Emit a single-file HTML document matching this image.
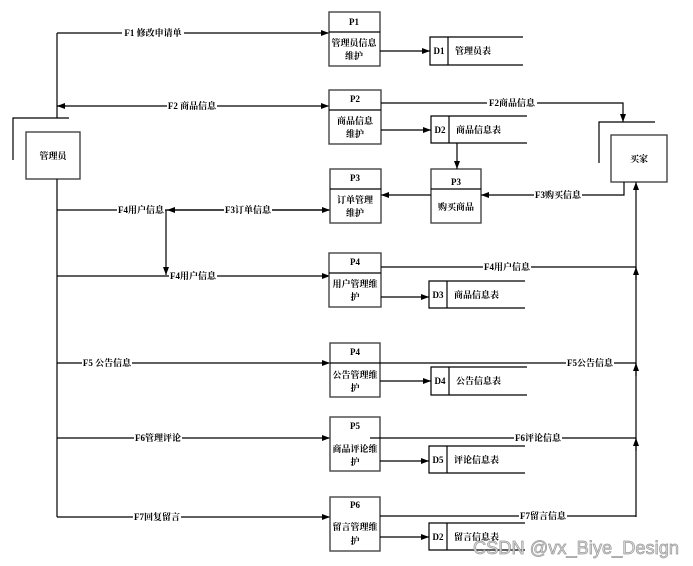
<!DOCTYPE html>
<html><head><meta charset="utf-8"><style>
html,body{margin:0;padding:0;background:#fff;width:693px;height:566px;overflow:hidden}
text{font-family:"Liberation Serif","Noto Serif CJK SC",serif;font-size:9px;font-weight:bold;fill:#000}
.l{stroke:#000;stroke-width:1.2;fill:none}
.b{stroke:#444;stroke-width:1.4;fill:#fff}
.t{fill:#fff}
</style></head><body>
<svg width="693" height="566" viewBox="0 0 693 566" xmlns="http://www.w3.org/2000/svg">
<defs><marker id="a" markerWidth="8" markerHeight="6" refX="8" refY="3" orient="auto" markerUnits="userSpaceOnUse"><path d="M0,0L8,3L0,6z" fill="#000"/></marker></defs>

<path class="l" d="M13,160V118H69"/>
<rect class="b" x="26" y="132" width="54" height="47"/>
<text x="53" y="159" text-anchor="middle">管理员</text>
<path class="l" d="M57,118V33M57,179V517"/>

<path class="l" d="M57,33H329" marker-end="url(#a)"/>
<rect class="t" x="122" y="27" width="62" height="12"/><text x="153" y="36" text-anchor="middle">F1 修改申请单</text>
<path class="l" d="M57,106H329" marker-end="url(#a)"/>
<path class="l" d="M66,106H57" marker-end="url(#a)"/>
<rect class="t" x="167" y="100" width="50" height="12"/><text x="192" y="109" text-anchor="middle">F2 商品信息</text>
<path class="l" d="M57,210H167"/>
<path class="l" d="M330,210H167" marker-end="url(#a)"/>
<path class="l" d="M167,210H330" marker-end="url(#a)"/>
<rect class="t" x="117" y="204" width="48" height="12"/><text x="141" y="213" text-anchor="middle">F4用户信息</text>
<rect class="t" x="224" y="204" width="48" height="12"/><text x="248" y="213" text-anchor="middle">F3订单信息</text>
<path class="l" d="M166,210V275" marker-end="url(#a)"/>
<path class="l" d="M57,276H330" marker-end="url(#a)"/>
<rect class="t" x="169" y="270" width="48" height="12"/><text x="193" y="279" text-anchor="middle">F4用户信息</text>
<path class="l" d="M57,363H330" marker-end="url(#a)"/>
<rect class="t" x="82" y="357" width="50" height="12"/><text x="107" y="366" text-anchor="middle">F5 公告信息</text>
<path class="l" d="M57,438H330" marker-end="url(#a)"/>
<rect class="t" x="134" y="432" width="48" height="12"/><text x="158" y="441" text-anchor="middle">F6管理评论</text>
<path class="l" d="M57,517H330" marker-end="url(#a)"/>
<rect class="t" x="133" y="511" width="48" height="12"/><text x="157" y="520" text-anchor="middle">F7回复留言</text>

<rect class="b" x="329" y="12" width="51" height="54"/><path class="l" d="M329,32H380"/>
<text x="354" y="25" text-anchor="middle">P1</text><text x="354" y="46" text-anchor="middle">管理员信息</text><text x="354" y="59" text-anchor="middle">维护</text>
<rect class="b" x="329" y="90" width="52" height="54"/><path class="l" d="M329,110H381"/>
<text x="355" y="102" text-anchor="middle">P2</text><text x="355" y="124" text-anchor="middle">商品信息</text><text x="355" y="137" text-anchor="middle">维护</text>
<rect class="b" x="330" y="169" width="51" height="54"/><path class="l" d="M330,189H381"/>
<text x="355" y="181" text-anchor="middle">P3</text><text x="355" y="203" text-anchor="middle">订单管理</text><text x="355" y="216" text-anchor="middle">维护</text>
<rect class="b" x="431" y="169" width="50" height="54"/><path class="l" d="M431,189H481"/>
<text x="456" y="185" text-anchor="middle">P3</text><text x="456" y="210" text-anchor="middle">购买商品</text>
<rect class="b" x="329" y="253" width="52" height="54"/><path class="l" d="M329,273H381"/>
<text x="355" y="265" text-anchor="middle">P4</text><text x="355" y="287" text-anchor="middle">用户管理维</text><text x="355" y="300" text-anchor="middle">护</text>
<rect class="b" x="330" y="343" width="50" height="54"/><path class="l" d="M330,363H380"/>
<text x="355" y="355" text-anchor="middle">P4</text><text x="355" y="378" text-anchor="middle">公告管理维</text><text x="355" y="391" text-anchor="middle">护</text>
<rect class="b" x="330" y="417" width="50" height="54"/>
<text x="355" y="429" text-anchor="middle">P5</text><text x="355" y="452" text-anchor="middle">商品评论维</text><text x="355" y="465" text-anchor="middle">护</text>
<rect class="b" x="330" y="497" width="50" height="54"/>
<text x="355" y="508" text-anchor="middle">P6</text><text x="355" y="530" text-anchor="middle">留言管理维</text><text x="355" y="544" text-anchor="middle">护</text>

<g class="l">
<path d="M523,37H430V65H523M448,37V65"/>
<path d="M527,116H431V143H527M449,116V143"/>
<path d="M525,281H429V308H525M447,281V308"/>
<path d="M527,367H431V395H527M449,367V395"/>
<path d="M525,446H429V473H525M447,446V473"/>
<path d="M525,523H429V550H525M447,523V550"/>
</g>
<text x="439" y="54" text-anchor="middle">D1</text><text x="455" y="54">管理员表</text>
<text x="440" y="133" text-anchor="middle">D2</text><text x="456" y="133">商品信息表</text>
<text x="438" y="298" text-anchor="middle">D3</text><text x="454" y="298">商品信息表</text>
<text x="440" y="384" text-anchor="middle">D4</text><text x="456" y="384">公告信息表</text>
<text x="438" y="463" text-anchor="middle">D5</text><text x="454" y="463">评论信息表</text>
<text x="438" y="540" text-anchor="middle">D2</text><text x="454" y="540">留言信息表</text>

<path class="l" d="M380,51H430" marker-end="url(#a)"/>
<path class="l" d="M381,130H431" marker-end="url(#a)"/>
<path class="l" d="M457,143V169" marker-end="url(#a)"/>
<path class="l" d="M381,297H429" marker-end="url(#a)"/>
<path class="l" d="M380,381H431" marker-end="url(#a)"/>
<path class="l" d="M380,461H429" marker-end="url(#a)"/>
<path class="l" d="M380,537H429" marker-end="url(#a)"/>
<path class="l" d="M431,195H381" marker-end="url(#a)"/>

<path class="l" d="M599,163V122H655"/>
<rect class="b" x="611" y="135" width="56" height="47"/>
<text x="639" y="162" text-anchor="middle">买家</text>
<path class="l" d="M381,103H623V122" marker-end="url(#a)"/>
<rect class="t" x="487" y="97" width="50" height="12"/><text x="512" y="106" text-anchor="middle">F2商品信息</text>
<path class="l" d="M624,182V195H481" marker-end="url(#a)"/>
<rect class="t" x="534" y="189" width="48" height="12"/><text x="558" y="198" text-anchor="middle">F3购买信息</text>

<path class="l" d="M636,517V182" marker-end="url(#a)"/>
<path class="l" d="M381,267H636"/><path class="l" d="M636,280V267" marker-end="url(#a)"/>
<rect class="t" x="483" y="261" width="48" height="12"/><text x="507" y="270" text-anchor="middle">F4用户信息</text>
<path class="l" d="M380,363H636"/><path class="l" d="M636,376V363" marker-end="url(#a)"/>
<rect class="t" x="566" y="357" width="48" height="12"/><text x="590" y="366" text-anchor="middle">F5公告信息</text>
<path class="l" d="M370,438H636"/><path class="l" d="M636,451V438" marker-end="url(#a)"/>
<rect class="t" x="514" y="432" width="48" height="12"/><text x="538" y="441" text-anchor="middle">F6评论信息</text>
<path class="l" d="M380,516H636"/>
<rect class="t" x="519" y="510" width="48" height="12"/><text x="543" y="519" text-anchor="middle">F7留言信息</text>

<text x="473" y="554" textLength="206" lengthAdjust="spacingAndGlyphs" style="font-family:'Liberation Sans','DejaVu Sans',sans-serif;font-weight:normal;font-size:18px;fill:#ddd;stroke:#999;stroke-width:0.7">CSDN @vx_Biye_Design</text>
</svg>
</body></html>
